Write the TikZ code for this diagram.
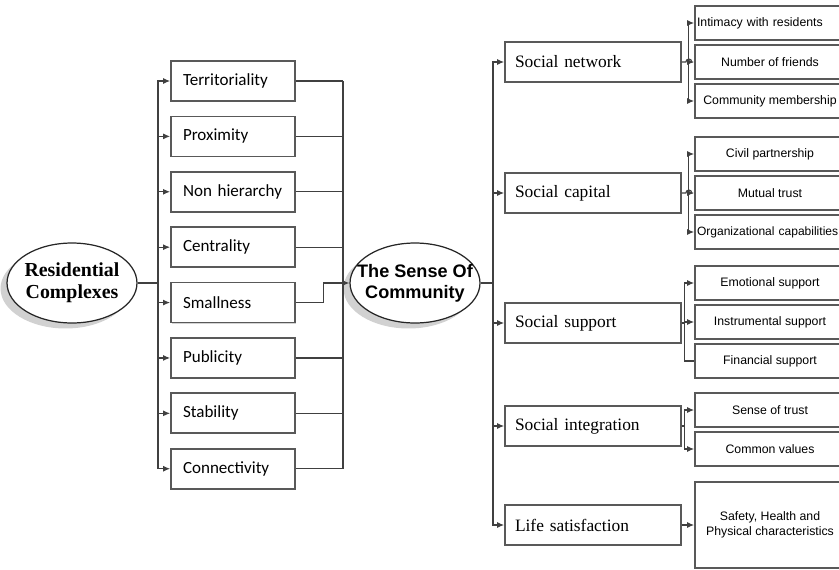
\documentclass[tikz,border=0pt]{standalone}
\usepackage{fontspec}
\setmainfont{Liberation Serif}
\newfontfamily\calfont{Carlito}
\newfontfamily\arialfont{Liberation Sans}
\usetikzlibrary{arrows.meta,shapes.geometric,shadows,calc}
\newcommand{\zbox}[1]{\makebox[0pt]{#1}}
\tikzset{
  line/.style={draw=black!75, line width=0.65pt},
  arr/.style={line, -{Latex[length=4pt,width=3.4pt]}},
  oval/.style={ellipse, draw=black!85, line width=0.7pt, fill=white, minimum width=2.6cm, minimum height=1.6cm, inner sep=0pt, align=center,
    drop shadow={shadow xshift=-1.3mm, shadow yshift=-1.1mm, opacity=0.3, fill=black!60}},
  framed/.style={rectangle, draw=black!65, line width=1pt, fill=white,
    drop shadow={shadow xshift=0.6pt, shadow yshift=-0.6pt, opacity=0.35}},
  factor/.style={framed, minimum height=0.8cm, text width=2.0cm, inner xsep=0.24cm, align=left, font=\calfont\fontsize{9.7}{11}\selectfont},
  dimbox/.style={framed, minimum height=0.8cm, text width=3.12cm, inner xsep=0.2cm, align=left, font=\fontsize{9.9}{12}\selectfont},
  itembox/.style={framed, node distance=0.78cm, minimum width=3cm, minimum height=0.68cm, inner xsep=0.08cm, align=center, font=\arialfont\fontsize{7}{8.2}\selectfont},
  leftitem/.style={text width=2.92cm, inner xsep=0.04cm, align=left}
}
\begin{document}
\begin{tikzpicture}[x=0.02cm, y=-0.02cm, node distance=1.108cm]
  \useasboundingbox (0,0) rectangle (839,569);
  \clip (0,0) rectangle (839,569);
  % Ellipses
  \node[oval, font=\bfseries\fontsize{11.3}{12.5}\selectfont] (res) at (72,283) {\zbox{Residential}\\\zbox{Complexes}};
  \node[oval, font=\arialfont\bfseries\fontsize{10.3}{12}\selectfont] (soc) at (415,283) {\zbox{The Sense Of}\\\zbox{Community}};
  % Physical factors
  \node[factor] (ter) at (233,81) {Territoriality};
  \node[factor, below of=ter] (pro) {Proximity};
  \node[factor, below of=pro] (non) {Non hierarchy};
  \node[factor, below of=non] (cen) {Centrality};
  \node[factor, below of=cen] (sma) {Smallness};
  \node[factor, below of=sma] (pub) {Publicity};
  \node[factor, below of=pub] (sta) {Stability};
  \node[factor, below of=sta] (con) {Connectivity};
  % Dimensions
  \node[dimbox] (net) at (593,62) {Social network};
  \node[dimbox] (cap) at (593,193) {Social capital};
  \node[dimbox] (sup) at (593,323) {Social support};
  \node[dimbox] (int) at (593,426) {Social integration};
  \node[dimbox] (lif) at (593,525) {Life satisfaction};
  % Indicators
  \node[itembox, leftitem] (inti) at (770,23) {Intimacy with residents};
  \node[itembox, below of=inti] (frie) {Number of friends};
  \node[itembox, below of=frie] (memb) {Community membership};
  \node[itembox] (civ) at (770,154) {Civil partnership};
  \node[itembox, below of=civ] (mut) {Mutual trust};
  \node[itembox, below of=mut, leftitem, font=\arialfont\fontsize{6.85}{8.2}\selectfont] (org) {Organizational capabilities};
  \node[itembox] (emo) at (770,283) {Emotional support};
  \node[itembox, below of=emo] (ins) {Instrumental support};
  \node[itembox, below of=ins] (fin) {Financial support};
  \node[itembox] (sen) at (770,410) {Sense of trust};
  \node[itembox, below of=sen] (com) {Common values};
  \node[itembox, minimum height=1.72cm] (saf) at (770,525) {Safety, Health and\\Physical characteristics};
  % Arrows
  \coordinate (lbus) at (158,283);
  \draw[line] (res.east) -- (lbus);
  \foreach \n in {ter,pro,non,cen,sma,pub,sta,con}
    \draw[arr] (lbus) |- (\n.west);
  \coordinate (rbus) at (343,283);
  \foreach \n in {ter,pro,non,cen,pub,sta,con}
    \draw[line] (\n.east) -- (\n.east -| rbus);
  \draw[line] (ter.east -| rbus) -- (con.east -| rbus);
  \draw[arr] (sma.east) -- ++(28,0) |- (soc.west);
  \coordinate (tbus) at (493,283);
  \draw[line] (soc.east) -- (tbus);
  \foreach \n in {net,cap,sup,int,lif}
    \draw[arr] (tbus) |- (\n.west);
  % network and capital, with a hop
  \coordinate (netj) at ($(net.east)+(7,0)$);
  \draw[arr] (netj) |- (inti.west);
  \draw[arr] (netj) |- (memb.west);
  \draw[arr] (net.east) -- ++(4,0) arc[start angle=180, end angle=0, radius=1.7pt] -- (frie.west);
  \coordinate (capj) at ($(cap.east)+(7,0)$);
  \draw[arr] (capj) |- (civ.west);
  \draw[arr] (capj) |- (org.west);
  \draw[arr] (cap.east) -- ++(4,0) arc[start angle=180, end angle=0, radius=1.7pt] -- (mut.west);
  % support
  \coordinate (supj) at ($(sup.east)+(3,0)$);
  \draw[line] (sup.east) -- (supj);
  \draw[arr] (supj) |- (emo.west);
  \draw[arr] (supj) |- (ins.west);
  \draw[line] (supj) |- (fin.west);
  % integration and satisfaction
  \coordinate (intj) at ($(int.east)+(3,0)$);
  \draw[arr] (int.east) -- (intj) |- (sen.west);
  \draw[arr] (intj) |- (com.west);
  \draw[arr] (lif.east) -- (saf.west);
\end{tikzpicture}
\end{document}
